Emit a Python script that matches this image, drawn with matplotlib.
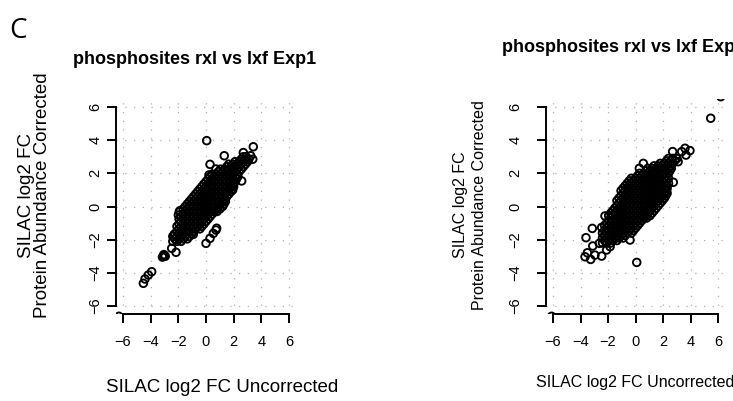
import matplotlib.pyplot as plt

# --- data ----------------------------------------------------------------
# dense core of each cloud, written row by row (one y level per row)
left_core_y = [-2.10, -1.95, -1.80, -1.65, -1.50, -1.35, -1.20, -1.05, -0.90,
               -0.75, -0.60, -0.45, -0.30, -0.15, 0.00, 0.15, 0.30, 0.45,
               0.60, 0.75, 0.90, 1.05, 1.20, 1.35, 1.50, 1.65, 1.80, 1.95,
               2.10, 2.25, 2.40, 2.55, 2.70, 2.85, 3.00]
left_core_x = [
    [-2.4, -2.1, -1.8],
    [-2.25, -1.95, -1.65, -1.35],
    [-2.4, -2.1, -1.8, -1.5, -1.2],
    [-2.25, -1.95, -1.65, -1.35, -1.05],
    [-2.1, -1.8, -1.5, -1.2, -0.9],
    [-1.95, -1.65, -1.35, -1.05, -0.75, -0.45],
    [-2.1, -1.8, -1.5, -1.2, -0.9, -0.6, -0.3],
    [-1.95, -1.65, -1.35, -1.05, -0.75, -0.45, -0.15],
    [-1.8, -1.5, -1.2, -0.9, -0.6, -0.3, 0.0],
    [-1.95, -1.65, -1.35, -1.05, -0.75, -0.45, -0.15, 0.15],
    [-1.8, -1.5, -1.2, -0.9, -0.6, -0.3, 0.0, 0.3],
    [-1.65, -1.35, -1.05, -0.75, -0.45, -0.15, 0.15, 0.45],
    [-1.5, -1.2, -0.9, -0.6, -0.3, 0.0, 0.3, 0.6, 0.8],
    [-1.65, -1.35, -1.05, -0.75, -0.45, -0.15, 0.15, 0.45, 0.75, 1.0],
    [-1.5, -1.2, -0.9, -0.6, -0.3, 0.0, 0.3, 0.6, 0.9, 1.2],
    [-1.35, -1.05, -0.75, -0.45, -0.15, 0.15, 0.45, 0.75, 1.05, 1.3],
    [-1.2, -0.9, -0.6, -0.3, 0.0, 0.3, 0.6, 0.9, 1.2, 1.4],
    [-1.05, -0.75, -0.45, -0.15, 0.15, 0.45, 0.75, 1.05, 1.35],
    [-0.9, -0.6, -0.3, 0.0, 0.3, 0.6, 0.9, 1.2, 1.5],
    [-0.75, -0.45, -0.15, 0.15, 0.45, 0.75, 1.05, 1.35, 1.65],
    [-0.6, -0.3, 0.0, 0.3, 0.6, 0.9, 1.2, 1.5, 1.8],
    [-0.45, -0.15, 0.15, 0.45, 0.75, 1.05, 1.35, 1.65, 1.9],
    [-0.3, 0.0, 0.3, 0.6, 0.9, 1.2, 1.5, 1.8, 2.0],
    [-0.15, 0.15, 0.45, 0.75, 1.05, 1.35, 1.65, 1.95],
    [0.0, 0.3, 0.6, 0.9, 1.2, 1.5, 1.8, 2.1],
    [0.15, 0.45, 0.75, 1.05, 1.35, 1.65, 1.95, 2.2],
    [0.3, 0.6, 0.9, 1.2, 1.5, 1.8, 2.1, 2.3],
    [0.45, 0.75, 1.05, 1.35, 1.65, 1.95, 2.25],
    [0.9, 1.2, 1.5, 1.8, 2.1, 2.4],
    [1.05, 1.35, 1.65, 1.95, 2.25, 2.55],
    [1.5, 1.8, 2.1, 2.4, 2.7],
    [1.65, 1.95, 2.25, 2.55, 2.85],
    [2.1, 2.4, 2.7, 3.0],
    [2.55, 2.85, 3.1],
    [2.7, 2.9],
]
left_out_x = [0.05, 1.32, 2.7, 3.42, 3.23, 3.38, 0.29, 0.72, 1.54, 2.58, 1.93,
              0.22, -1.88, -2.0, -1.93, 0.77, -2.29, -0.92, 0.29, 0.0, 0.72,
              0.53, -2.48, -2.17, -3.09, -3.0, -3.15, -3.05, -2.95, -3.93,
              -4.17, -4.41, -4.53, -6.3]
left_out_y = [3.97, 3.06, 3.25, 3.6, 3.06, 2.85, 2.54, 2.26, 2.2, 1.54, 1.0,
              1.9, -0.25, -0.51, -0.31, -1.31, -1.68, -1.68, -1.92, -2.22,
              -1.42, -1.62, -2.52, -2.76, -2.99, -2.95, -3.05, -2.9, -3.0,
              -3.93, -4.13, -4.37, -4.63, -6.62]

right_core_y = [-2.20, -2.05, -1.90, -1.75, -1.60, -1.45, -1.30, -1.15, -1.00,
                -0.85, -0.70, -0.55, -0.40, -0.25, -0.10, 0.05, 0.20, 0.35,
                0.50, 0.65, 0.80, 0.95, 1.10, 1.25, 1.40, 1.55, 1.70, 1.85,
                2.00, 2.15, 2.30, 2.45, 2.60, 2.75, 2.90]
right_core_x = [
    [-2.4, -2.1, -1.8],
    [-2.25, -1.95, -1.65, -1.35],
    [-2.4, -2.1, -1.8, -1.5, -1.2, -0.9],
    [-2.25, -1.95, -1.65, -1.35, -1.05, -0.75],
    [-2.4, -2.1, -1.8, -1.5, -1.2, -0.9, -0.6, -0.3],
    [-2.25, -1.95, -1.65, -1.35, -1.05, -0.75, -0.45, -0.15],
    [-2.1, -1.8, -1.5, -1.2, -0.9, -0.6, -0.3, 0.0],
    [-2.25, -1.95, -1.65, -1.35, -1.05, -0.75, -0.45, -0.15, 0.15],
    [-2.1, -1.8, -1.5, -1.2, -0.9, -0.6, -0.3, 0.0, 0.3],
    [-1.95, -1.65, -1.35, -1.05, -0.75, -0.45, -0.15, 0.15, 0.45],
    [-1.8, -1.5, -1.2, -0.9, -0.6, -0.3, 0.0, 0.3, 0.6, 0.8],
    [-1.95, -1.65, -1.35, -1.05, -0.75, -0.45, -0.15, 0.15, 0.45, 0.75, 1.05],
    [-1.8, -1.5, -1.2, -0.9, -0.6, -0.3, 0.0, 0.3, 0.6, 0.9, 1.2],
    [-1.65, -1.35, -1.05, -0.75, -0.45, -0.15, 0.15, 0.45, 0.75, 1.05, 1.35],
    [-1.5, -1.2, -0.9, -0.6, -0.3, 0.0, 0.3, 0.6, 0.9, 1.2, 1.5],
    [-1.35, -1.05, -0.75, -0.45, -0.15, 0.15, 0.45, 0.75, 1.05, 1.35, 1.65],
    [-1.2, -0.9, -0.6, -0.3, 0.0, 0.3, 0.6, 0.9, 1.2, 1.5, 1.8],
    [-1.35, -1.05, -0.75, -0.45, -0.15, 0.15, 0.45, 0.75, 1.05, 1.35, 1.65, 1.95],
    [-1.2, -0.9, -0.6, -0.3, 0.0, 0.3, 0.6, 0.9, 1.2, 1.5, 1.8, 2.1],
    [-1.05, -0.75, -0.45, -0.15, 0.15, 0.45, 0.75, 1.05, 1.35, 1.65, 1.95, 2.2],
    [-0.9, -0.6, -0.3, 0.0, 0.3, 0.6, 0.9, 1.2, 1.5, 1.8, 2.1, 2.3],
    [-1.05, -0.75, -0.45, -0.15, 0.15, 0.45, 0.75, 1.05, 1.35, 1.65, 1.95, 2.25],
    [-0.9, -0.6, -0.3, 0.0, 0.3, 0.6, 0.9, 1.2, 1.5, 1.8, 2.1, 2.3],
    [-0.75, -0.45, -0.15, 0.15, 0.45, 0.75, 1.05, 1.35, 1.65, 1.95, 2.25],
    [-0.6, -0.3, 0.0, 0.3, 0.6, 0.9, 1.2, 1.5, 1.8, 2.1, 2.4],
    [-0.45, -0.15, 0.15, 0.45, 0.75, 1.05, 1.35, 1.65, 1.95, 2.25],
    [-0.3, 0.0, 0.3, 0.6, 0.9, 1.2, 1.5, 1.8, 2.1, 2.4],
    [0.15, 0.45, 0.75, 1.05, 1.35, 1.65, 1.95, 2.25],
    [0.3, 0.6, 0.9, 1.2, 1.5, 1.8, 2.1, 2.4],
    [0.75, 1.05, 1.35, 1.65, 1.95, 2.25, 2.5],
    [0.9, 1.2, 1.5, 1.8, 2.1, 2.4, 2.6],
    [1.35, 1.65, 1.95, 2.25, 2.55],
    [1.8, 2.1, 2.4, 2.7],
    [2.25, 2.55, 2.85],
    [2.4, 2.7, 3.0],
]
right_out_x = [5.47, 6.2, 3.96, 3.6, 3.36, 3.67, 2.7, 3.0, 3.1, 0.57, 0.28,
               2.75, -2.22, -3.14, -3.6, -2.46, -3.11, -3.5, -3.67, -3.26,
               -2.95, -2.46, -2.1, -1.85, -2.63, -0.4, 0.09, -6.1]
right_out_y = [5.32, 6.62, 3.37, 3.51, 3.31, 3.1, 3.31, 2.9, 2.7, 2.6, 2.3,
               1.46, -0.57, -1.32, -1.88, -1.26, -2.38, -2.79, -3.03, -3.19,
               -2.93, -2.99, -2.62, -2.42, -2.22, -2.02, -3.37, -6.62]

ticks = [-6, -4, -2, 0, 2, 4, 6]
titles = ["phosphosites rxl vs lxf Exp1", "phosphosites rxl vs lxf Exp2"]
ylab1 = "SILAC log2 FC"
ylab2 = "Protein Abundance Corrected"
xlab = "SILAC log2 FC Uncorrected"

W, H = 733, 401
plt.rcParams['font.family'] = ['Liberation Sans', 'DejaVu Sans']
fig = plt.figure(figsize=(W / 100, H / 100), dpi=100)


def rect(x0, y0, x1, y1):
    return [x0 / W, 1 - y1 / H, (x1 - x0) / W, (y1 - y0) / H]


def panel(box, core_x, core_y, out_x, out_y, ypad):
    ax = fig.add_axes(box)
    xs, ys = [], []
    for yv, row in zip(core_y, core_x):
        xs += row
        ys += [yv] * len(row)
    xs += out_x
    ys += out_y
    ax.scatter(xs, ys, s=30, facecolors='none', edgecolors='black',
               linewidths=1.35, zorder=3)
    ax.set_xlim(-6.48, 6.48)
    ax.set_ylim(-6.48, 6.48)
    labels = [str(t).replace('-', '\u2212') for t in ticks]
    ax.set_xticks(ticks)
    ax.set_yticks(ticks)
    ax.set_xticklabels(labels)
    ax.set_yticklabels(labels, rotation=90, va='center')
    ax.grid(True, linestyle=(0, (1, 6)), color='#b0b0b0', lw=0.9)
    ax.set_axisbelow(True)
    for s in ['top', 'right']:
        ax.spines[s].set_visible(False)
    for s in ['left', 'bottom']:
        ax.spines[s].set_linewidth(1.4)
        ax.spines[s].set_bounds(-6, 6)
    ax.tick_params(axis='both', length=6.5, width=1.4, labelsize=10.5)
    ax.tick_params(axis='x', pad=8.3)
    ax.tick_params(axis='y', pad=ypad)
    return ax


ax1 = panel(rect(116.4, 99.0, 295.6, 314.0), left_core_x, left_core_y,
            left_out_x, left_out_y, 3.6)
ax2 = panel(rect(546.4, 99.0, 724.6, 314.0), right_core_x, right_core_y,
            right_out_x, right_out_y, 10.8)


def ftext(x, y, s, **kw):
    fig.text(x / W, 1 - y / H, s, **kw)


ftext(9, 31, "C", fontsize=20, family='Open Sans', ha='left', va='center')

# left panel labels (bigger font)
ftext(194.5, 59.5, titles[0], fontsize=13, fontweight='bold', ha='center', va='center')
ftext(27, 195, ylab1, fontsize=13.5, rotation=90, ha='center', va='center')
ftext(43, 195, ylab2, fontsize=13.5, rotation=90, ha='center', va='center')
ftext(222, 388, xlab, fontsize=13.5, ha='center', va='center')

# right panel labels; the title runs past the right edge as in the original
ftext(502, 48, titles[1], fontsize=13, fontweight='bold', ha='left', va='center')
ftext(461, 205, ylab1, fontsize=11.5, rotation=90, ha='center', va='center')
ftext(479, 205, ylab2, fontsize=11.5, rotation=90, ha='center', va='center')
ftext(635, 382, xlab, fontsize=11.5, ha='center', va='center')

fig.savefig("out.png", dpi=100)
